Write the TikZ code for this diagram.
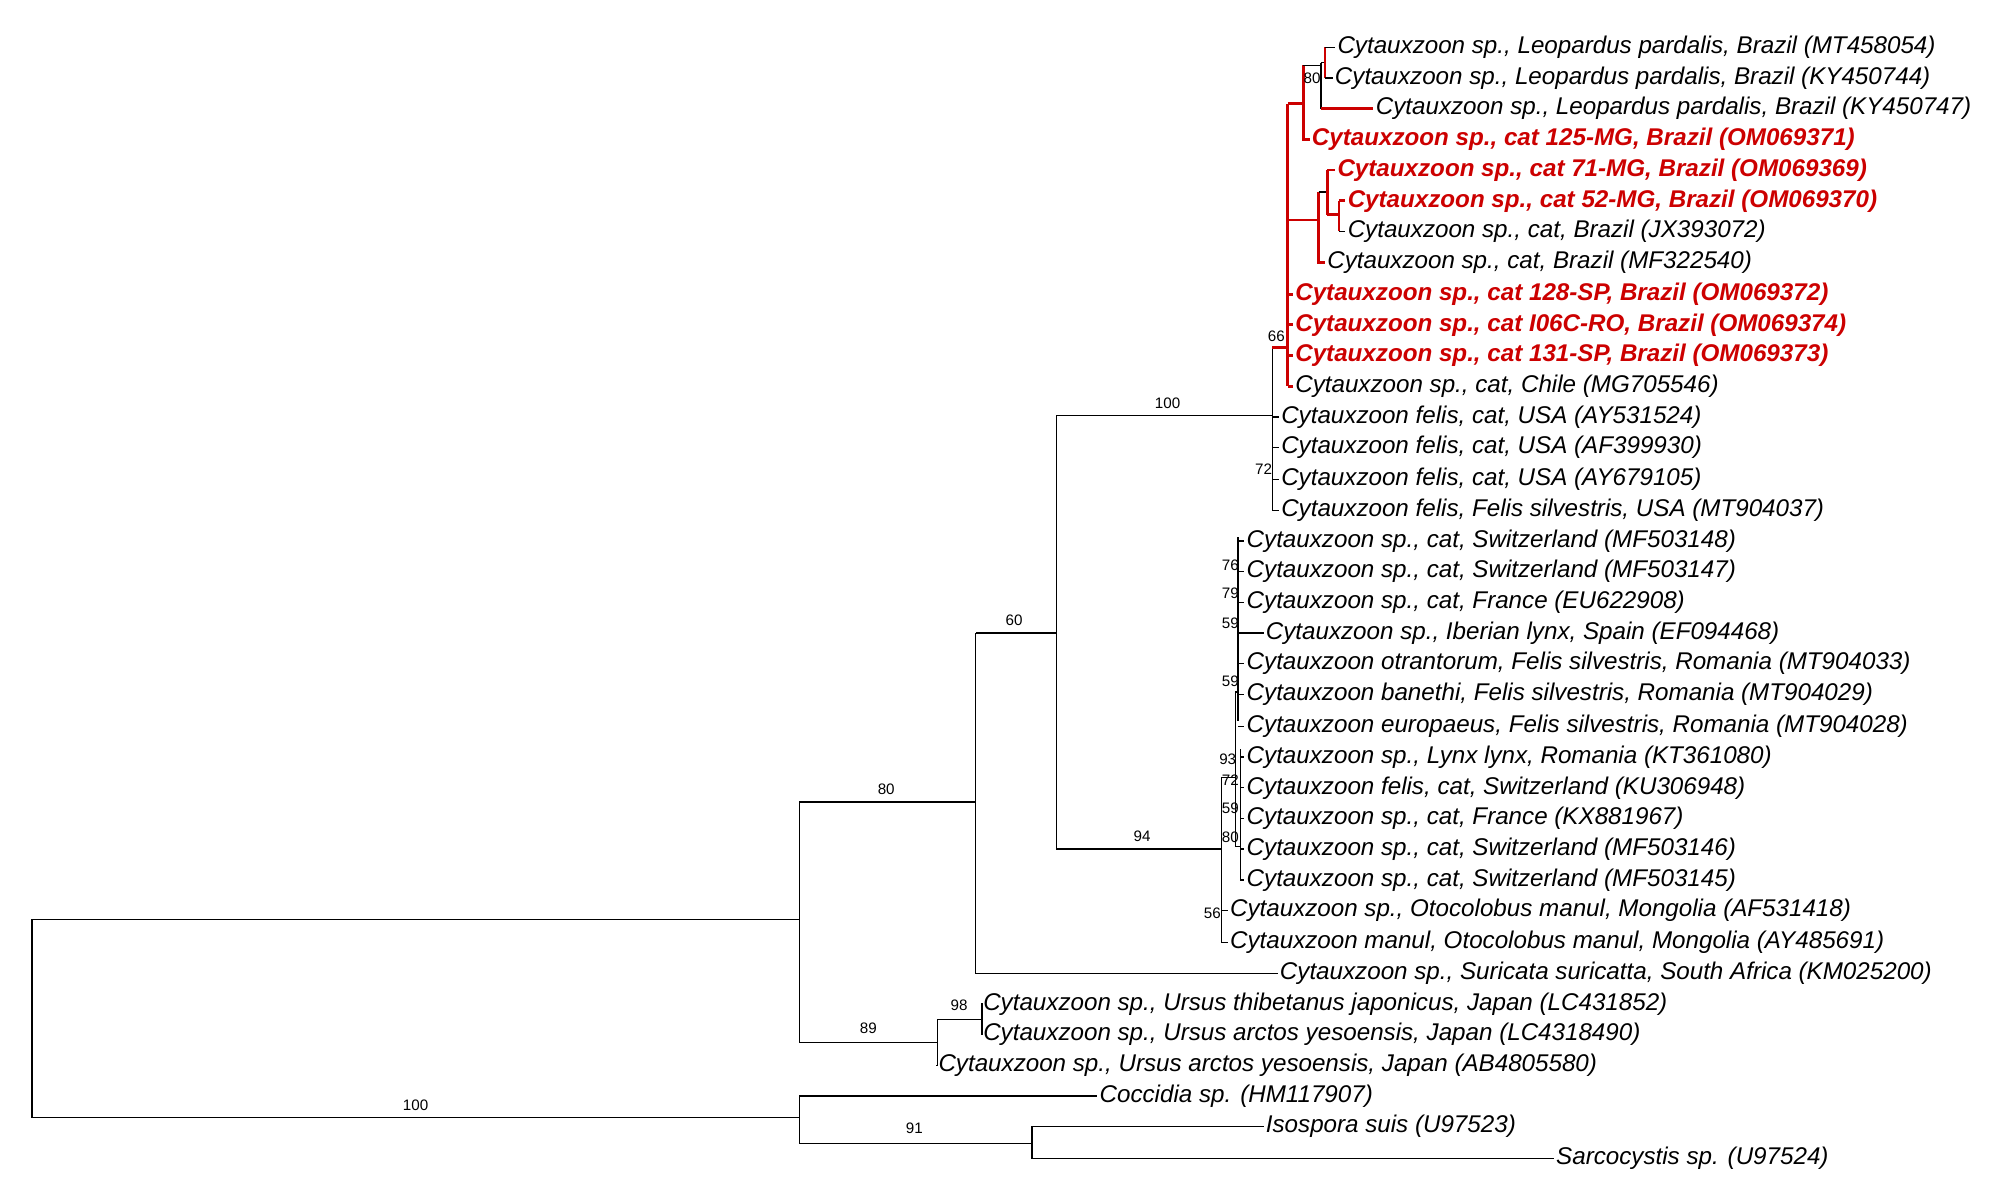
\documentclass[tikz,border=0pt]{standalone}
\usepackage{fontspec}
\setmainfont{Liberation Sans}
\definecolor{tred}{RGB}{204,0,0}
\begin{document}
\begin{tikzpicture}[x=0.64pt,y=-0.64pt,
 br/.style={line width=0.7pt},
 rb/.style={line width=1.4pt,tred},
 lab/.style={anchor=west,inner sep=1pt,font=\fontsize{12.1pt}{13pt}\selectfont\itshape},
 rlab/.style={lab,tred,font=\fontsize{12.1pt}{13pt}\selectfont\itshape\bfseries},
 bs/.style={inner sep=0pt,font=\fontsize{7.6pt}{8pt}\selectfont}]
\useasboundingbox (0,0) rectangle (1560,931);
% leaves
\node[lab] (l0) at (1044,37) {Cytauxzoon sp., Leopardus pardalis, Brazil (MT458054)};
\node[lab] (l1) at (1042,61) {Cytauxzoon sp., Leopardus pardalis, Brazil (KY450744)};
\node[lab] (l2) at (1074,85) {Cytauxzoon sp., Leopardus pardalis, Brazil (KY450747)};
\node[rlab] (l3) at (1024,109) {Cytauxzoon sp., cat 125-MG, Brazil (OM069371)};
\node[rlab] (l4) at (1044,133) {Cytauxzoon sp., cat 71-MG, Brazil (OM069369)};
\node[rlab] (l5) at (1052,157) {Cytauxzoon sp., cat 52-MG, Brazil (OM069370)};
\node[lab] (l6) at (1052,181) {Cytauxzoon sp., cat, Brazil (JX393072)};
\node[lab] (l7) at (1036,205) {Cytauxzoon sp., cat, Brazil (MF322540)};
\node[rlab] (l8) at (1011,230) {Cytauxzoon sp., cat 128-SP, Brazil (OM069372)};
\node[rlab] (l9) at (1011,254) {Cytauxzoon sp., cat I06C-RO, Brazil (OM069374)};
\node[rlab] (l10) at (1011,278) {Cytauxzoon sp., cat 131-SP, Brazil (OM069373)};
\node[lab] (l11) at (1011,302) {Cytauxzoon sp., cat, Chile (MG705546)};
\node[lab] (l12) at (1000,326) {Cytauxzoon felis, cat, USA (AY531524)};
\node[lab] (l13) at (1000,350) {Cytauxzoon felis, cat, USA (AF399930)};
\node[lab] (l14) at (1000,375) {Cytauxzoon felis, cat, USA (AY679105)};
\node[lab] (l15) at (1000,399) {Cytauxzoon felis, Felis silvestris, USA (MT904037)};
\node[lab] (l16) at (973,423) {Cytauxzoon sp., cat, Switzerland (MF503148)};
\node[lab] (l17) at (973,447) {Cytauxzoon sp., cat, Switzerland (MF503147)};
\node[lab] (l18) at (973,471) {Cytauxzoon sp., cat, France (EU622908)};
\node[lab] (l19) at (988,495) {Cytauxzoon sp., Iberian lynx, Spain (EF094468)};
\node[lab] (l20) at (973,519) {Cytauxzoon otrantorum, Felis silvestris, Romania (MT904033)};
\node[lab] (l21) at (973,543) {Cytauxzoon banethi, Felis silvestris, Romania (MT904029)};
\node[lab] (l22) at (973,568) {Cytauxzoon europaeus, Felis silvestris, Romania (MT904028)};
\node[lab] (l23) at (973,592) {Cytauxzoon sp., Lynx lynx, Romania (KT361080)};
\node[lab] (l24) at (973,616) {Cytauxzoon felis, cat, Switzerland (KU306948)};
\node[lab] (l25) at (973,640) {Cytauxzoon sp., cat, France (KX881967)};
\node[lab] (l26) at (973,664) {Cytauxzoon sp., cat, Switzerland (MF503146)};
\node[lab] (l27) at (973,688) {Cytauxzoon sp., cat, Switzerland (MF503145)};
\node[lab] (l28) at (960,712) {Cytauxzoon sp., Otocolobus manul, Mongolia (AF531418)};
\node[lab] (l29) at (960,737) {Cytauxzoon manul, Otocolobus manul, Mongolia (AY485691)};
\node[lab] (l30) at (999,761) {Cytauxzoon sp., Suricata suricatta, South Africa (KM025200)};
\node[lab] (l31) at (767,785) {Cytauxzoon sp., Ursus thibetanus japonicus, Japan (LC431852)};
\node[lab] (l32) at (767,809) {Cytauxzoon sp., Ursus arctos yesoensis, Japan (LC4318490)};
\node[lab] (l33) at (732,833) {Cytauxzoon sp., Ursus arctos yesoensis, Japan (AB4805580)};
\node[lab] (l34) at (858,857) {Coccidia sp. (HM117907)};
\node[lab] (l35) at (988,881) {Isospora suis (U97523)};
\node[lab] (l36) at (1215,906) {Sarcocystis sp. (U97524)};
% internal node coordinates
\coordinate (root) at (25,719);
\coordinate (og) at (625,874);
\coordinate (ig) at (625,719);
\coordinate (fel) at (995,325);
\coordinate (red) at (1007,272);
\coordinate (n94) at (955,664);
% outgroup
\draw[br] (25,719) |- (og);
\draw[br] (root) -- (ig);
\draw[br] (625,857) -- (625,894);
\draw[br] (625,857) -- (l34.west);
\draw[br] (625,894) -| (807,881) -- (l35.west);
\draw[br] (807,894) |- (l36.west);
% ingroup
\draw[br] (625,627) -- (625,815);
\draw[br] (625,627) -| (763,495);
\draw[br] (625,815) -| (733,797);
\draw[br] (733,797) |- (l33.west);
\draw[br] (733,797) -| (768,785) -- (l31.west);
\draw[br] (768,797) |- (l32.west);
\draw[br] (763,627) |- (l30.west);
\draw[br] (763,495) -| (826,325);
\draw[br] (826,495) -- (826,664);
\draw[br] (826,325) -| (fel);
\draw[br] (995,272) -- (995,399);
\foreach \i in {12,13,14,15} \draw[br] (995,0|-l\i.west) -- (l\i.west);
% red clade
\draw[rb] (995,272) -- (red);
\draw[rb] (1007,81) -- (1007,302);
\foreach \i in {8,9,10,11} \draw[rb] (1007,0|-l\i.west) -- (l\i.west);
\draw[rb] (1007,81) -- (1019,81);
\draw[rb] (1019,51) -- (1019,109) -- (l3.west);
\draw[br] (1019,51) -- (1033,51);
\draw[br] (1033,49) -- (1033,85);
\draw[rb] (1033,85) -- (l2.west);
\draw[br] (1033,49) -- (1036,49);
\draw[rb] (1036,37) -- (1036,61);
\draw[br] (1036,37) -- (l0.west);
\draw[br] (1036,61) -- (l1.west);
\draw[rb] (1007,172) -- (1031,172);
\draw[rb] (1031,150) -- (1031,205) -- (l7.west);
\draw[br] (1031,150) -- (1038,150);
\draw[rb] (1038,133) -- (1038,168);
\draw[rb] (1038,133) -- (l4.west);
\draw[rb] (1038,168) -- (1047,168);
\draw[rb] (1047,157) -- (1047,181);
\draw[rb] (1047,157) -- (l5.west);
\draw[br] (1047,181) -- (l6.west);
% lower cluster
\draw[br] (826,664) -- (n94);
\draw[br] (955,608) -- (955,737);
\draw[br] (955,712) -- (l28.west);
\draw[br] (955,737) -- (l29.west);
\draw[br] (955,608) -- (966,608);
\draw[br] (966,541) -- (966,662);
\draw[br] (966,541) -- (968,541);
\draw[br] (968,420) -- (968,564);
\foreach \i in {16,17,18,20,21,22} \draw[br] (968,0|-l\i.west) -- (l\i.west);
\draw[br] (968,495) -- (l19.west);
\draw[br] (966,662) -- (970,662);
\draw[br] (970,586) -- (970,688);
\foreach \i in {23,24,25,26,27} \draw[br] (970,0|-l\i.west) -- (l\i.west);
% bootstrap values
\node[bs] (b1) at (325,864) {100};
\node[bs] (b2) at (715,882) {91};
\node[bs] (b3) at (693,617) {80};
\node[bs] (b4) at (679,804) {89};
\node[bs] (b5) at (750,786) {98};
\node[bs] (b6) at (793,485) {60};
\node[bs] (b7) at (913,315) {100};
\node[bs] (b8) at (893,654) {94};
\node[bs] (b9) at (998,263) {66};
\node[bs] (b10) at (988,367) {72};
\node[bs] (b11) at (1026,61) {80};
\node[bs] (b12) at (962,442) {76};
\node[bs] (b13) at (962,464) {79};
\node[bs] (b14) at (962,487) {59};
\node[bs] (b15) at (962,533) {59};
\node[bs] (b16) at (960,594) {93};
\node[bs] (b17) at (962,610) {72};
\node[bs] (b18) at (962,632) {59};
\node[bs] (b19) at (962,655) {80};
\node[bs] (b20) at (948,714) {56};
\end{tikzpicture}
\end{document}
